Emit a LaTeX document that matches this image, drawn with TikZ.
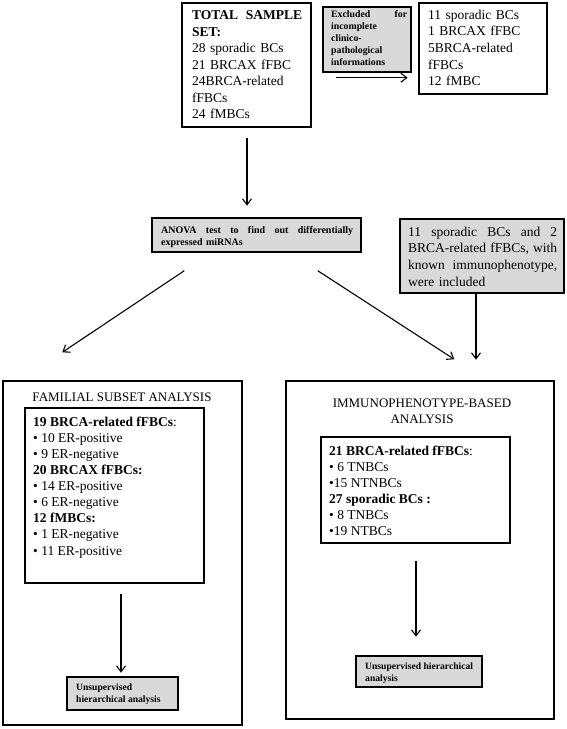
\documentclass[tikz,border=0pt]{standalone}
\usepackage{fontspec}
\setmainfont{Liberation Serif}
\usetikzlibrary{arrows.meta,calc}
\newcommand\gp{\hfill}
\begin{document}
\begin{tikzpicture}[x=1pt,y=-1pt,
  box/.style={draw,line width=1.4pt,rectangle,inner sep=0pt},
  gbox/.style={box,fill=black!15},
  txt/.style={anchor=north west,inner sep=0pt,align=left},
  arr/.style={line width=1.1pt,-{Straight Barb[length=6pt,width=9pt,line width=1.1pt]}},
  big/.style={font=\fontsize{13.5}{16.5}\selectfont},
  small/.style={font=\fontsize{9.8}{12}\selectfont\bfseries},
  ttl/.style={inner sep=0pt,align=center,font=\fontsize{13}{16}\selectfont}]
\useasboundingbox (0,0) rectangle (567,729);
\fill[white] (0,0) rectangle (567,729);

% top row
\node[box,minimum width=129pt,minimum height=124pt] (total) at (246.5,65) {};
\node[txt,big,text width=110pt] (totalt) at (192,10.5)
  {\textbf{TOTAL}\gp\textbf{SAMPLE}\\\textbf{SET:}\\28 sporadic BCs\\21 BRCAX fFBC\\24BRCA-related\\fFBCs\\24 fMBCs};

\node[gbox,minimum width=88pt,minimum height=65pt] (excl) at (367,39.5) {};
\node[txt,small,text width=76pt] (exclt) at (331,10)
  {Excluded\gp for\\incomplete\\clinico-\\pathological\\informations};

\node[box,minimum width=128pt,minimum height=91pt] (rest) at (483,48.5) {};
\node[txt,big,text width=115pt,font=\fontsize{13.5}{16.7}\selectfont] (restt) at (428,9.5)
  {11 sporadic BCs\\1 BRCAX fFBC\\5BRCA-related\\fFBCs\\12 fMBC};

\draw[arr] ($(excl.south west)+(14,5)$) coordinate (e1) -- ($(excl.south east)+(-4,5)$) coordinate (e2);

\draw[arr] ($(total.south)+(0.5,10)$) -- ($(total.south)+(0.5,78)$);

% middle
\node[gbox,minimum width=209pt,minimum height=34pt] (anova) at (256.5,235) {};
\node[txt,font=\fontsize{10}{12}\selectfont\bfseries,text width=192pt] (anovat) at (161,226.5)
  {ANOVA\gp test\gp to\gp find\gp out\gp differentially\\expressed miRNAs};

\node[gbox,minimum width=164pt,minimum height=74pt] (incl) at (482,256) {};
\node[txt,text width=149pt,font=\fontsize{13.5}{16.7}\selectfont] (inclt) at (408,226.5)
  {11\gp sporadic\gp BCs\gp and\gp 2\\BRCA-related\gp fFBCs,\gp with\\known\gp immunophenotype,\\were included};

% bottom outer boxes
\node[box,minimum width=239pt,minimum height=344pt] (fam) at (122.5,553) {};
\node[ttl] (famt) at (122,397) {FAMILIAL SUBSET ANALYSIS};
\node[box,minimum width=179pt,minimum height=175pt] (famin) at (114.5,495.5) {};
\node[txt,font=\fontsize{13.5}{16.1}\selectfont] (famint) at (33,416.5)
  {\textbf{19 BRCA-related fFBCs}:\\• 10 ER-positive\\• 9 ER-negative\\\textbf{20 BRCAX fFBCs:}\\• 14 ER-positive\\• 6 ER-negative\\\textbf{12 fMBCs:}\\• 1 ER-negative\\• 11 ER-positive};
\node[gbox,minimum width=111pt,minimum height=33pt] (un1) at (122.5,693.5) {};
\node[txt,font=\fontsize{9.6}{12.5}\selectfont\bfseries] (un1t) at (76,683.5)
  {Unsupervised\\hierarchical analysis};

\node[box,minimum width=268pt,minimum height=338pt] (imm) at (420,550) {};
\node[ttl] (immt) at (422,411) {IMMUNOPHENOTYPE-BASED\\ANALYSIS};
\node[box,minimum width=189pt,minimum height=106pt] (immin) at (415.5,490) {};
\node[txt,font=\fontsize{13.5}{16}\selectfont] (immint) at (329,445.5)
  {\textbf{21 BRCA-related fFBCs}:\\• 6 TNBCs\\•15 NTNBCs\\\textbf{27 sporadic BCs :}\\• 8 TNBCs\\•19 NTBCs};
\node[gbox,minimum width=126pt,minimum height=31pt] (un2) at (419,671.5) {};
\node[txt,font=\fontsize{9.6}{12}\selectfont\bfseries] (un2t) at (365,662.5)
  {Unsupervised hierarchical\\analysis};

% connectors
\draw[arr] ($(anova.south west)+(33,18)$) -- ($(fam.north west)+(60,-28)$);
\draw[arr] ($(anova.south east)+(-44,18)$) -- ($(imm.north west)+(169,-21)$);
\draw[arr] ($(incl.south)+(-6,0)$) -- ($(incl.south)+(-6,66)$);
\draw[arr] ($(famin.south)+(6.5,10)$) -- ($(famin.south)+(6.5,89)$);
\draw[arr] ($(immin.south)+(0.5,17)$) -- ($(immin.south)+(0.5,93)$);
\end{tikzpicture}
\end{document}
